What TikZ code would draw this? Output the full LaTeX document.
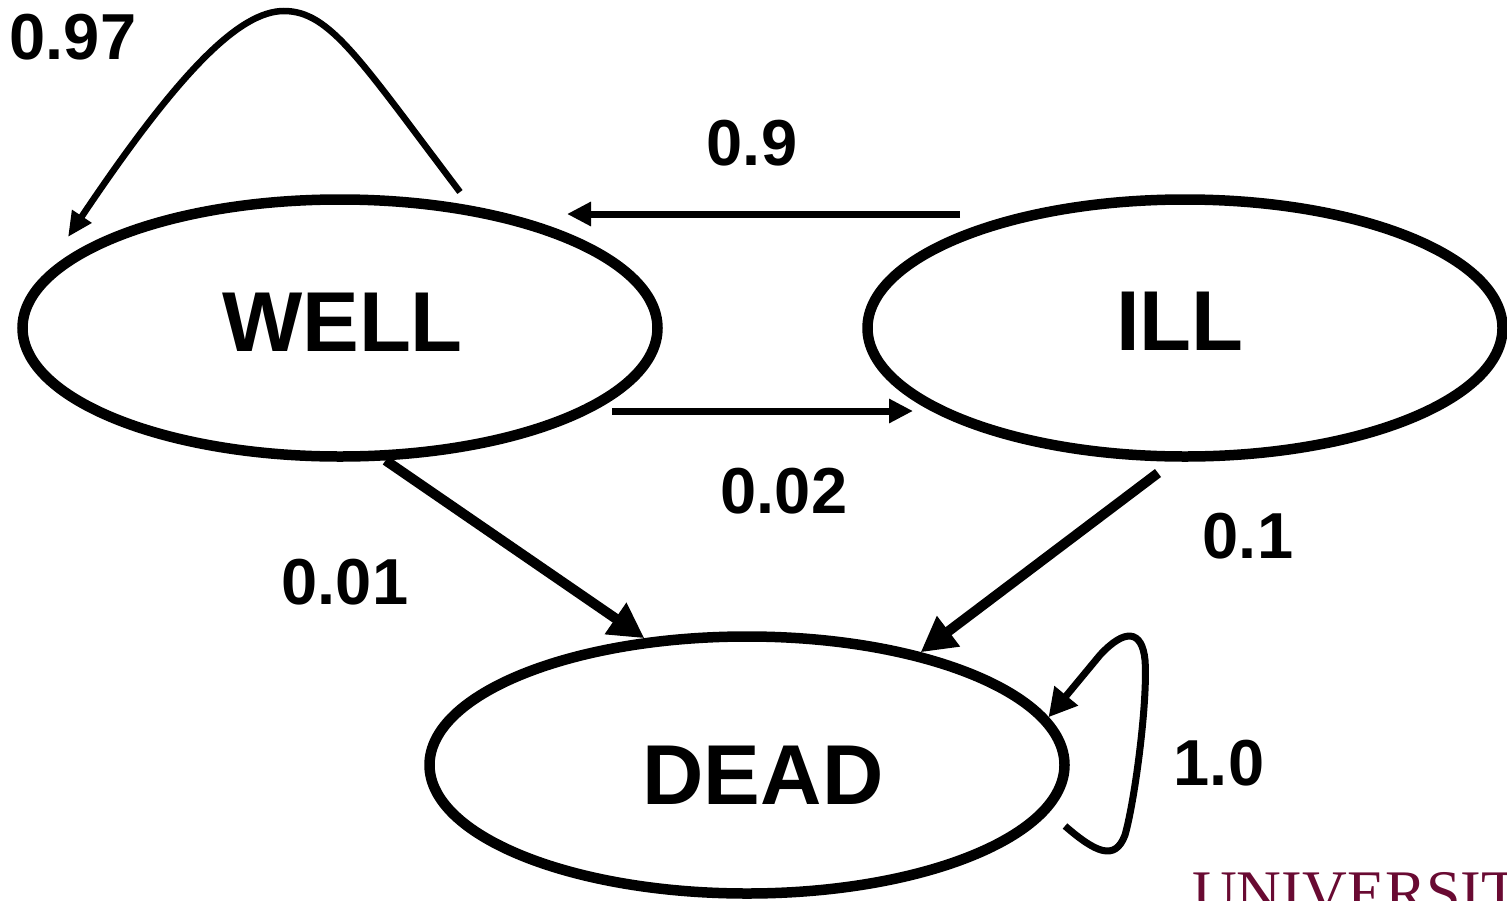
\documentclass[tikz,border=0pt]{standalone}
\usepackage{fontspec}
\setmainfont{Liberation Sans}
\newfontfamily\uniserif{Liberation Serif}
\usetikzlibrary{arrows.meta,shapes.geometric}
\definecolor{maroon}{RGB}{105,10,50}

\begin{document}
\begin{tikzpicture}[x=1pt,y=-1pt,
  statebox/.style={draw, ellipse, line width=10.5pt, minimum width=635pt,
    minimum height=257pt, inner sep=0pt},
  statename/.style={font=\fontsize{85}{90}\selectfont\bfseries, inner sep=0pt},
  prob/.style={font=\fontsize{65}{70}\selectfont\bfseries, inner sep=0pt},
  thin arrow/.style={line width=7pt, -{Triangle[length=24pt,width=23pt]}},
  thick arrow/.style={line width=10pt, -{Triangle[length=35pt,width=36pt]}},
  well loop/.style={line width=6.5pt, -{Triangle[length=25pt,width=22pt]}},
  dead loop/.style={line width=7pt, -{Triangle[length=28pt,width=29pt]}}
]
\useasboundingbox (0,0) rectangle (1507,900);

% states
\node[statebox] (well) at (340,328) {};
\node[statebox] (ill)  at (1185,328) {};
\node[statebox] (dead) at (747,765) {};
\node[statename] (wellname) at (342.5,322) {WELL};
\node[statename] (illname)  at (1180,321.5) {ILL};
\node[statename] (deadname) at (763,775) {DEAD};

% free ends of the transitions
\coordinate (wl-start) at (460,192);
\coordinate (wl-tip)   at (68,237);
\coordinate (iw-start) at (960,214);
\coordinate (iw-tip)   at (567,214);
\coordinate (wi-start) at (612,411);
\coordinate (wi-tip)   at (913,411);
\coordinate (id-start) at (1158,473);
\coordinate (dl-start) at (1065,826);

% transitions
\draw[well loop] (wl-start) .. controls (360,60) and (330,11) .. (284,11)
  .. controls (240,11) and (180,70) .. (wl-tip);
\draw[thin arrow] (iw-start) -- (iw-tip);
\draw[thin arrow] (wi-start) -- (wi-tip);
\draw[thick arrow] (well.-71.2) -- (dead.129.4);
\draw[thick arrow] (id-start) -- (dead.33.9);
\draw[dead loop] (dl-start) .. controls (1095,852) and (1115,862) .. (1125,835)
  .. controls (1135,800) and (1148,700) .. (1145,660)
  .. controls (1142,630) and (1125,628) .. (1100,655) -- (dead.9);

% transition probabilities
\node[prob] (p97) at (73,37) {0.97};
\node[prob] (p9)  at (752,143) {0.9};
\node[prob] (p02) at (784,491) {0.02};
\node[prob] (p01) at (345,582) {0.01};
\node[prob] (p1)  at (1248,536) {0.1};
\node[prob] (p10) at (1219,763) {1.0};

% wordmark at the lower edge
\node[font=\uniserif\fontsize{62}{70}\selectfont, text=maroon, anchor=north west,
  inner sep=0pt] (uni) at (1192,872) {UNIVERSIT};
\end{tikzpicture}
\end{document}
